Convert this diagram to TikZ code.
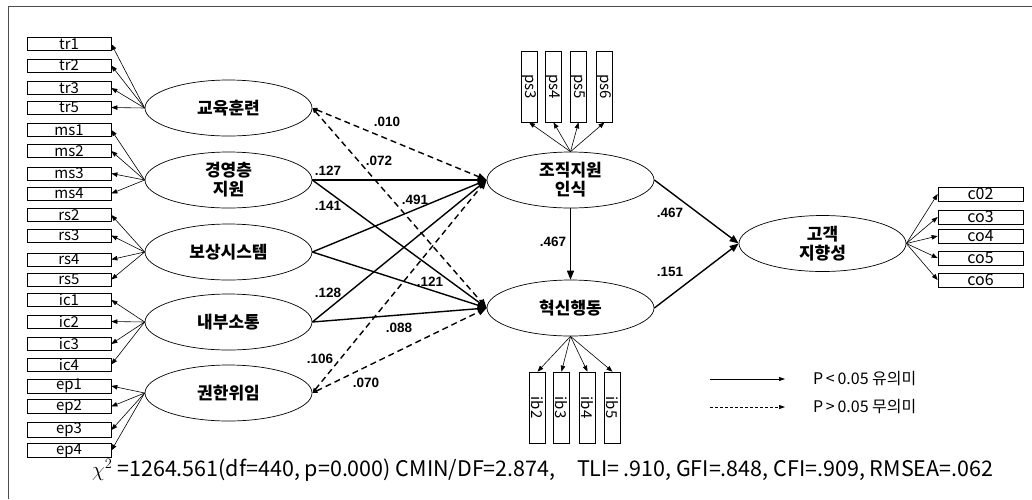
\documentclass[tikz,border=0pt]{standalone}
\usepackage{fontspec}
\setmainfont{Noto Sans CJK KR}
\newfontfamily\coef{Liberation Sans}
\usetikzlibrary{arrows.meta,shapes.geometric}
\begin{document}
\begin{tikzpicture}[x=1pt,y=-1pt,
 lbox/.style={draw, minimum width=84pt, minimum height=13pt, inner sep=0pt, font=\fontsize{15}{15}\selectfont, line width=0.7pt},
 rbox/.style={draw, minimum width=85pt, minimum height=14pt, inner sep=0pt, font=\fontsize{16}{16}\selectfont, line width=0.7pt},
 vbox/.style={draw, rotate=-90, minimum width=71pt, minimum height=16pt, inner sep=0pt, font=\fontsize{15}{15}\selectfont, line width=0.7pt},
 lat/.style={draw, ellipse, minimum width=167pt, minimum height=56pt, inner sep=0pt, align=center, font=\fontsize{17}{19}\selectfont\bfseries, line width=0.7pt},
 meas/.style={-{Triangle[length=6pt,width=4.5pt]}, line width=0.6pt},
 sig/.style={-{Triangle[length=9pt,width=7pt]}, line width=1.4pt},
 ns/.style={{Triangle[length=5pt,width=4pt]}-{Triangle[length=9pt,width=7pt]}, line width=1.4pt, dash pattern=on 6pt off 4pt},
 cf/.style={font=\coef\bfseries\fontsize{13.5}{13.5}\selectfont, inner sep=0pt},
 legtxt/.style={anchor=west, inner sep=0pt, font=\fontsize{16}{16}\selectfont}
]
\useasboundingbox (0,0) rectangle (1032,499);
\draw[line width=0.8pt, black!70] (8,499) -- (8,6) -- (1032,6);

% latent variables
\node[lat] (tr) at (228.5,108) {교육훈련};
\node[lat] (ms) at (228.5,180) {경영층\\지원};
\node[lat] (rs) at (228.5,252) {보상시스템};
\node[lat] (ic) at (228.5,322) {내부소통};
\node[lat] (ep) at (228.5,393) {권한위임};
\node[lat] (os) at (570.5,180) {조직지원\\인식};
\node[lat] (ib) at (570.5,308) {혁신행동};
\node[lat] (co) at (822.5,243.5) {고객\\지향성};

% left indicator boxes
\foreach \n/\y/\l in {tr1/44/tr, tr2/65.5/tr, tr3/88/tr, tr5/107.5/tr,
  ms1/130/ms, ms2/151/ms, ms3/173.5/ms, ms4/193.5/ms,
  rs2/215/rs, rs3/235.5/rs, rs4/259.5/rs, rs5/279.5/rs,
  ic1/300/ic, ic2/321.5/ic, ic3/344/ic, ic4/364.5/ic,
  ep1/386/ep, ep2/406.5/ep, ep3/430/ep, ep4/450.5/ep}{
  \node[lbox] (\n) at (69,\y) {\n};
  \draw[meas] (\l.west) -- (\n.east);
}

% right indicator boxes
\foreach \n/\t/\y in {c2/c02/194, c3/co3/217, c4/co4/236, c5/co5/258, c6/co6/280}{
  \node[rbox] (\n) at (980.5,\y) {\t};
  \draw[meas] (co.east) -- (\n.west);
}

% top indicator boxes
\foreach \n/\x in {ps3/529, ps4/553.5, ps5/578.5, ps6/604.5}{
  \node[vbox] (\n) at (\x,86.5) {\n};
  \draw[meas] (os.north) -- (\n.east);
}

% bottom indicator boxes
\foreach \n/\x in {ib2/537.5, ib3/561.5, ib4/587.5, ib5/612.5}{
  \node[vbox] (\n) at (\x,407.5) {\n};
  \draw[meas] (ib.south) -- (\n.west);
}

% structural paths
\draw[ns] (tr.east) -- (os.west);
\draw[ns] (tr.east) -- (ib.west);
\draw[sig] (ms.east) -- (os.west);
\draw[sig] (ms.east) -- (ib.west);
\draw[sig] (rs.east) -- (os.west);
\draw[sig] (rs.east) -- (ib.west);
\draw[sig] (ic.east) -- (os.west);
\draw[sig] (ic.east) -- (ib.west);
\draw[ns] (ep.east) -- (os.west);
\draw[ns] (ep.east) -- (ib.west);
\draw[sig] (os.south) -- (ib.north);
\draw[sig] (os.east) -- (co.west);
\draw[sig] (ib.east) -- (co.west);

% coefficients
\node[cf] (c010) at (387,122) {.010};
\node[cf] (c072) at (379,161) {.072};
\node[cf] (c127) at (328,171) {.127};
\node[cf] (c141) at (328,206) {.141};
\node[cf] (c491) at (415,200) {.491};
\node[cf] (c121) at (430,282) {.121};
\node[cf] (c128) at (328,293) {.128};
\node[cf] (c088) at (399,328) {.088};
\node[cf] (c106) at (320,359) {.106};
\node[cf] (c070) at (366,383) {.070};
\node[cf] (c467a) at (553,242) {.467};
\node[cf] (c467b) at (670,213) {.467};
\node[cf] (c151) at (670,272) {.151};

% legend
\coordinate (l1a) at (710,379);
\coordinate (l1b) at (785,379);
\coordinate (l2a) at (710,407);
\coordinate (l2b) at (785,407);
\draw[-{Triangle[length=6pt,width=4pt]}, line width=0.7pt] (l1a) -- (l1b);
\draw[-{Triangle[length=6pt,width=4pt]}, line width=0.7pt, dash pattern=on 3pt off 2pt] (l2a) -- (l2b);
\node[legtxt] (lg1) at (813,379) {P\,<\,0.05 유의미};
\node[legtxt] (lg2) at (813,407) {P\,>\,0.05 무의미};

% fit statistics
\node[anchor=west, inner sep=0pt, font=\fontsize{21.5}{21.5}\selectfont] (fit) at (92,470)
 {$\chi^{2}$ =1264.561(df=440, p=0.000) CMIN/DF=2.874,\quad TLI=\,.910, GFI=.848, CFI=.909, RMSEA=.062};
\end{tikzpicture}
\end{document}
